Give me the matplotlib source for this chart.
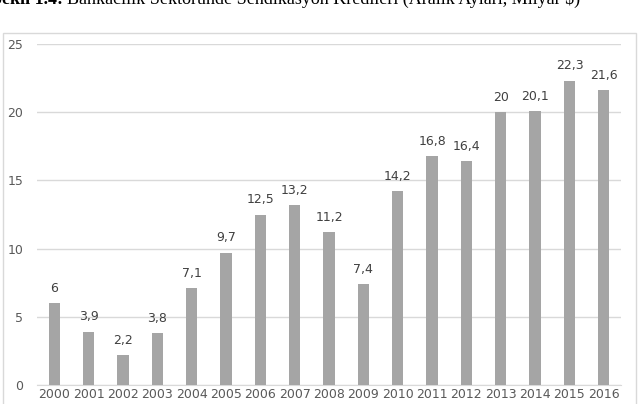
import matplotlib
matplotlib.use("Agg")
import matplotlib.pyplot as plt
from matplotlib.patches import Rectangle

years = ["2000", "2001", "2002", "2003", "2004", "2005", "2006", "2007", "2008",
         "2009", "2010", "2011", "2012", "2013", "2014", "2015", "2016"]
values = [6, 3.9, 2.2, 3.8, 7.1, 9.7, 12.5, 13.2, 11.2, 7.4, 14.2, 16.8, 16.4,
          20, 20.1, 22.3, 21.6]
labels = ["6", "3,9", "2,2", "3,8", "7,1", "9,7", "12,5", "13,2", "11,2", "7,4",
          "14,2", "16,8", "16,4", "20", "20,1", "22,3", "21,6"]
yticks = [0, 5, 10, 15, 20, 25]

W, H = 639, 404
fig = plt.figure(figsize=(W / 100, H / 100), dpi=100)

# chart border
fig.patches.append(Rectangle((3 / W, -0.01), (636 - 3) / W, (H - 33) / H + 0.01,
                             transform=fig.transFigure, fill=False,
                             edgecolor="#d9d9d9", linewidth=1))

ax = fig.add_axes([37 / W, (H - 385) / H, (621 - 37) / W, (385 - 44) / H])
x = list(range(len(years)))
ax.bar(x, values, width=0.33, color="#a5a5a5", zorder=3)
for xi, v, lab in zip(x, values, labels):
    ax.annotate(lab, (xi, v), xytext=(0, 6), textcoords="offset points",
                ha="center", va="bottom", fontsize=9, color="#404040")

ax.set_xlim(-0.5, len(years) - 0.5)
ax.set_ylim(0, 25)
ax.set_yticks(yticks)
ax.set_yticklabels([str(t) for t in yticks])
ax.set_xticks(x)
ax.set_xticklabels(years)
ax.grid(axis="y", color="#d9d9d9", linewidth=1, zorder=0)
for s in ["top", "right", "left"]:
    ax.spines[s].set_visible(False)
ax.spines["bottom"].set_color("#d9d9d9")
ax.tick_params(axis="both", length=0, labelsize=9, colors="#595959")
ax.tick_params(axis="y", pad=10)
ax.tick_params(axis="x", pad=2.5)

# title (partly cut off at top in the reference)
base_y = (H - 3.5) / H
fig.text(63 / W, base_y, "Şekil 1.4:", fontsize=13, fontweight="bold",
         family="Liberation Serif", va="baseline", ha="right")
fig.text(67 / W, base_y,
         "Bankacılık Sektöründe Sendikasyon Kredileri (Aralık Ayları, Milyar $)",
         fontsize=13, family="Liberation Serif", va="baseline", ha="left")

fig.savefig("out.png", dpi=100)
